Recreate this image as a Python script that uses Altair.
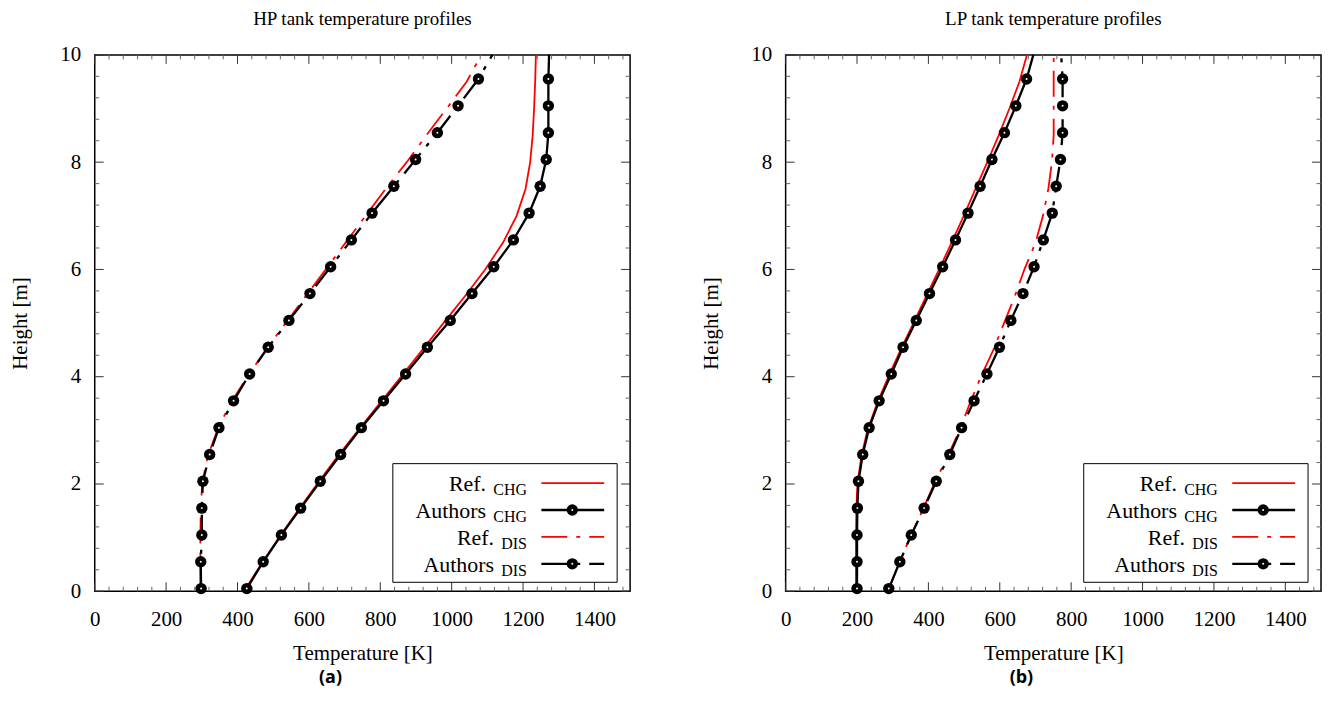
import altair as alt
import pandas as pd

# ---------------- data ----------------
H_REF = [0.0, 0.5, 1.0, 1.5, 2.0, 2.5, 3.0, 3.5, 4.0, 4.5, 5.0,
         5.5, 6.0, 6.5, 7.0, 7.5, 8.0, 8.5, 9.0, 9.5, 10.0]
H_AUTH = [0.05, 0.55, 1.05, 1.55, 2.05, 2.55, 3.05, 3.55, 4.05, 4.55, 5.05,
          5.55, 6.05, 6.55, 7.05, 7.55, 8.05, 8.55, 9.05, 9.55, 10.0]
N_MARKERS = 20  # the last H_AUTH entry is only the line's end at the top

# HP tank
HP_REF_CHG = [418, 466, 516, 569, 623, 679, 738, 798, 858, 918, 977,
              1037, 1094, 1144, 1182, 1207, 1220, 1227, 1231, 1234, 1236]
HP_AUTH_CHG = [426, 472, 523, 577, 632, 689, 747, 809, 871, 932, 996,
               1057, 1118, 1173, 1217, 1248, 1265, 1271, 1271, 1271, 1273]
HP_REF_DIS = [296, 296, 296, 297, 301, 316, 343, 380, 428, 479, 535,
              591, 647, 703, 759, 815, 874, 929, 986, 1042, 1083]
HP_AUTH_DIS = [298, 297, 300, 300, 303, 322, 348, 389, 434, 486, 544,
               603, 661, 719, 777, 838, 899, 960, 1018, 1075, 1114]

# LP tank
LP_REF_CHG = [197, 197, 197, 198, 201, 212, 229, 256, 288, 322, 358,
              394, 430, 465, 499, 532, 565, 597, 627, 655, 676]
LP_AUTH_CHG = [200, 200, 200, 201, 204, 216, 234, 262, 296, 329, 366,
               403, 440, 476, 511, 545, 578, 613, 645, 675, 694]
LP_REF_DIS = [287, 316, 348, 383, 416, 453, 487, 516, 547, 582, 612,
              642, 669, 700, 721, 736, 746, 751, 751, 751, 751]
LP_AUTH_DIS = [289, 320, 352, 388, 422, 460, 493, 528, 564, 599, 631,
               665, 696, 722, 747, 758, 770, 776, 776, 776, 772]

X_MAJOR = [0, 200, 400, 600, 800, 1000, 1200, 1400]
Y_MAJOR = [0, 2, 4, 6, 8, 10]
X_MINOR = [v for v in range(40, 1500, 40) if v % 200 != 0]
Y_MINOR = [round(0.4 * i, 1) for i in range(1, 25) if i % 5 != 0]

LEGEND_ROWS = [("Ref.", "CHG"), ("Authors", "CHG"), ("Ref.", "DIS"), ("Authors", "DIS")]

# ---------------- style / layout ----------------
W, H = 537, 538
FONT = "Liberation Serif"
RED = "#ff0000"
DASH = [26, 9, 4, 9]

X_AXIS = alt.Axis(values=X_MAJOR, format="d", tickSize=0, domain=False, grid=False,
                  labelFlush=False, labelPadding=17, titlePadding=13,
                  labelFont=FONT, titleFont=FONT, labelFontSize=21, titleFontSize=21,
                  titleFontWeight="normal", labelColor="black", titleColor="black")
Y_AXIS = alt.Axis(values=Y_MAJOR, format="d", tickSize=0, domain=False, grid=False,
                  labelFlush=False, labelPadding=14, titlePadding=29,
                  labelFont=FONT, titleFont=FONT, labelFontSize=21, titleFontSize=21,
                  titleFontWeight="normal", labelColor="black", titleColor="black")


def panel(title, caption, ref_chg, auth_chg, ref_dis, auth_dis):
    xs = alt.Scale(domain=[0, 1500], nice=False, zero=False)
    ys = alt.Scale(domain=[0, 10], nice=False, zero=False)

    def X():
        return alt.X("T:Q", scale=xs, axis=X_AXIS, title="Temperature [K]")

    def Y():
        return alt.Y("h:Q", scale=ys, axis=Y_AXIS, title="Height [m]")

    layers = []

    df_ref_chg = pd.DataFrame({"h": H_REF, "T": ref_chg})
    df_auth_chg = pd.DataFrame({"h": H_AUTH, "T": auth_chg})
    df_ref_dis = pd.DataFrame({"h": H_REF, "T": ref_dis})
    df_auth_dis = pd.DataFrame({"h": H_AUTH, "T": auth_dis})

    # inward ticks on all four sides
    for vals, ln, col in [(X_MAJOR, 9, "#333333"), (X_MINOR, 4.5, "#666666")]:
        d = pd.DataFrame({"T": vals})
        layers.append(alt.Chart(d).mark_rule(color=col, strokeWidth=1).encode(
            x=X(), y=alt.value(H), y2=alt.value(H - ln)))
        layers.append(alt.Chart(d).mark_rule(color=col, strokeWidth=1).encode(
            x=X(), y=alt.value(0), y2=alt.value(ln)))
    for vals, ln, col in [(Y_MAJOR, 9, "#333333"), (Y_MINOR, 4.5, "#666666")]:
        d = pd.DataFrame({"h": vals})
        layers.append(alt.Chart(d).mark_rule(color=col, strokeWidth=1).encode(
            y=Y(), x=alt.value(0), x2=alt.value(ln)))
        layers.append(alt.Chart(d).mark_rule(color=col, strokeWidth=1).encode(
            y=Y(), x=alt.value(W), x2=alt.value(W - ln)))

    # Ref CHG
    layers.append(alt.Chart(df_ref_chg).mark_line(color=RED, strokeWidth=1.8).encode(
        x=X(), y=Y(), order=alt.Order("h:Q")))
    # Authors CHG
    layers.append(alt.Chart(df_auth_chg).mark_line(color="black", strokeWidth=2.3).encode(
        x=X(), y=Y(), order=alt.Order("h:Q")))
    m1 = df_auth_chg.iloc[:N_MARKERS]
    layers.append(alt.Chart(m1).mark_point(shape="circle", filled=True, size=130,
                                           color="black", opacity=1).encode(x=X(), y=Y()))
    layers.append(alt.Chart(m1).mark_point(shape="circle", filled=True, size=4,
                                           color="white", opacity=1).encode(x=X(), y=Y()))
    # Ref DIS
    layers.append(alt.Chart(df_ref_dis).mark_line(color=RED, strokeWidth=1.8, strokeDash=DASH).encode(
        x=X(), y=Y(), order=alt.Order("h:Q")))
    # Authors DIS
    layers.append(alt.Chart(df_auth_dis).mark_line(color="black", strokeWidth=2.3, strokeDash=DASH).encode(
        x=X(), y=Y(), order=alt.Order("h:Q")))
    m2 = df_auth_dis.iloc[:N_MARKERS]
    layers.append(alt.Chart(m2).mark_point(shape="circle", filled=True, size=130,
                                           color="black", opacity=1).encode(x=X(), y=Y()))
    layers.append(alt.Chart(m2).mark_point(shape="circle", filled=True, size=4,
                                           color="white", opacity=1).encode(x=X(), y=Y()))

    # ---- legend (drawn by hand to get the subscripts) ----
    one = pd.DataFrame({"k": [0]})
    layers.append(alt.Chart(one).mark_rect(fill="white", stroke="black", strokeWidth=1).encode(
        x=alt.value(W - 238), x2=alt.value(W - 13), y=alt.value(410), y2=alt.value(529)))
    sub_w = {"CHG": 34, "DIS": 26}
    sub_right = W - 103.5
    for i, (main, sub) in enumerate(LEGEND_ROWS):
        yc = 429.5 + 27 * i
        layers.append(alt.Chart(one).mark_text(text=sub, font=FONT, fontSize=16, align="right",
                                               baseline="alphabetic", color="black").encode(
            x=alt.value(sub_right), y=alt.value(yc + 12)))
        layers.append(alt.Chart(one).mark_text(text=main, font=FONT, fontSize=22, align="right",
                                               baseline="alphabetic", color="black").encode(
            x=alt.value(sub_right - sub_w[sub] - 7), y=alt.value(yc + 8)))
        is_ref = main.startswith("Ref")
        color = RED if is_ref else "black"
        sw = 1.8 if is_ref else 2.3
        if sub == "CHG":
            rule = alt.Chart(one).mark_rule(color=color, strokeWidth=sw)
        else:
            rule = alt.Chart(one).mark_rule(color=color, strokeWidth=sw, strokeDash=DASH)
        layers.append(rule.encode(x=alt.value(W - 89), x2=alt.value(W - 26), y=alt.value(yc)))
        if not is_ref:
            layers.append(alt.Chart(one).mark_point(shape="circle", filled=True, size=130,
                                                    color="black", opacity=1).encode(
                x=alt.value(W - 58), y=alt.value(yc)))
            layers.append(alt.Chart(one).mark_point(shape="circle", filled=True, size=4,
                                                    color="white", opacity=1).encode(
                x=alt.value(W - 58), y=alt.value(yc)))

    # caption
    layers.append(alt.Chart(one).mark_text(text=caption, font="Open Sans", fontWeight="bold",
                                           fontSize=18, align="center", baseline="middle",
                                           color="black").encode(
        x=alt.value(W / 2 - 32), y=alt.value(625)))

    return alt.layer(*layers).properties(
        width=W, height=H,
        title=alt.TitleParams(title, font=FONT, fontSize=19, fontWeight="normal",
                              anchor="middle", frame="group", color="black", offset=15))


left = panel("HP tank temperature profiles", "(a)", HP_REF_CHG, HP_AUTH_CHG, HP_REF_DIS, HP_AUTH_DIS)
right = panel("LP tank temperature profiles", "(b)", LP_REF_CHG, LP_AUTH_CHG, LP_REF_DIS, LP_AUTH_DIS)

chart = alt.hconcat(left, right, spacing=68).properties(
    padding={"left": 1, "top": 0, "right": 0, "bottom": 0}
).configure_view(stroke="black", strokeWidth=1.5)

chart.save("out.html", embed_options={"renderer": "svg", "actions": False})
